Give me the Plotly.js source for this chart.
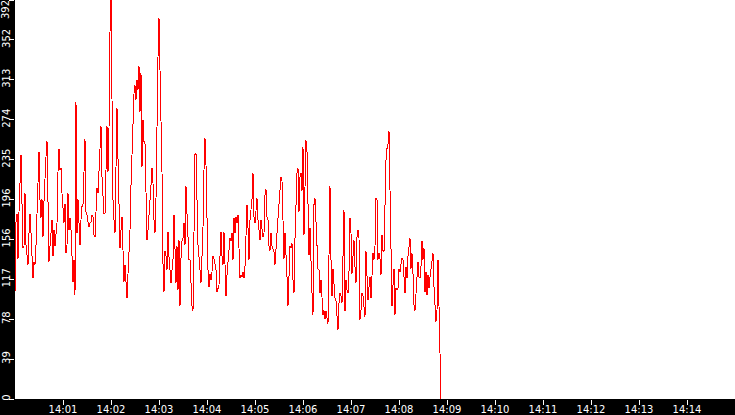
<!DOCTYPE html>
<html>
<head>
<meta charset="utf-8">
<script src="https://cdn.plot.ly/plotly-3.0.1.min.js"></script>
<style>
  html, body { margin: 0; padding: 0; background: #000; }
  #chart { width: 735px; height: 415px; }
  #chart .scatterlayer path { shape-rendering: crispEdges; }
</style>
</head>
<body>
<div id="chart"></div>
<script>
// sampled readings, one every 1.25 s from 14:00:00
const startTime = '2024-01-01 14:00:00';
const sampleStepMs = 1250;

const readings = [
    104, 174, 182, 138, 184, 224, 240, 192, 148, 150, 202, 151, 140, 132, 163, 182, 163, 137, 119, 135,
    132, 151, 178, 223, 243, 196, 178, 196, 159, 194, 229, 238, 253, 209, 135, 150, 163, 176, 140, 166,
    150, 168, 173, 223, 246, 225, 227, 202, 179, 173, 192, 143, 151, 202, 166, 178, 166, 143, 115, 137,
    102, 292, 163, 196, 161, 151, 176, 189, 191, 222, 255, 184, 181, 174, 169, 173, 174, 181, 179, 161,
    159, 184, 207, 202, 220, 245, 268, 218, 200, 182,
    182, 222, 268, 223, 266, 361, 392, 295, 196, 176, 163, 228, 286, 236, 173, 148, 166, 179, 146, 115,
    132, 120, 99, 123, 146, 166, 210, 250, 279, 300, 308, 294, 313, 304, 327, 282, 320, 228, 274, 253,
    251, 176, 156, 166, 179, 189, 210, 227, 212, 176, 163, 197, 281, 336, 374, 323, 305, 223, 133, 105,
    145, 141, 127, 164, 140, 127, 114, 127, 137, 181, 143, 114, 150, 107, 156, 91, 138, 155, 158, 173,
    151, 209, 182, 146, 137,
    137, 112, 91, 87, 166, 240, 241, 182, 151, 140, 123, 114, 140, 169, 225, 256, 230, 166, 127, 110,
    123, 117, 125, 140, 138, 133, 127, 105, 110, 112, 140, 164, 141, 132, 164, 141, 101, 122, 137, 145,
    158, 155, 163, 137, 178, 163, 179, 173, 181, 148, 119, 122, 120, 125, 119, 130, 163, 191, 168, 137,
    176, 189, 196, 222, 179, 173, 187, 197, 176, 161, 156, 176, 169, 159, 163, 200, 206, 179, 176, 150,
    146, 163, 150, 146, 145, 132, 153, 163,
    178, 191, 202, 218, 214, 186, 138, 163, 146, 120, 91, 130, 150, 148, 153, 117, 104, 158, 186, 222,
    227, 184, 218, 222, 204, 248, 161, 205, 254, 243, 187, 141, 168, 125, 104, 83, 191, 197, 174, 145,
    128, 127, 104, 117, 94, 83, 87, 79, 86, 81, 74, 141, 209, 137, 101, 128, 114, 99, 96, 81,
    68, 94, 104, 101, 94, 140, 186, 86, 117, 107, 104, 125, 178, 163, 123, 140, 156, 130, 114, 159,
    166, 158, 78, 87, 104, 101, 91, 81,
    145, 120, 97, 110, 120, 99, 127, 143, 137, 150, 197, 196, 137, 143, 138, 122, 161, 146, 145, 192,
    235, 246, 250, 263, 196, 114, 91, 112, 128, 83, 109, 107, 109, 128, 125, 133, 138, 137, 120, 104,
    130, 119, 140, 150, 158, 128, 143, 123, 92, 87, 109, 120, 135, 120, 119, 130, 155, 137, 148, 105,
    125, 102, 122, 109, 120, 127, 132, 143, 110, 94, 76, 87, 137, 91, 22, 0
];

const yMax = 392;
const yTickVals = [0, 39.2, 78.4, 117.6, 156.8, 196, 235.2, 274.4, 313.6, 352.8, 392];
const yTickText = ['0', '39', '78', '117', '156', '196', '235', '274', '313', '352', '392'];

const xTickMinutes = ['14:01', '14:02', '14:03', '14:04', '14:05', '14:06', '14:07',
                      '14:08', '14:09', '14:10', '14:11', '14:12', '14:13', '14:14'];

const t0 = new Date(startTime.replace(' ', 'T')).getTime();
const pad = n => String(n).padStart(2, '0');
function stamp(ms) {
    const d = new Date(ms);
    return d.getFullYear() + '-' + pad(d.getMonth() + 1) + '-' + pad(d.getDate()) + ' ' +
        pad(d.getHours()) + ':' + pad(d.getMinutes()) + ':' + pad(d.getSeconds()) + '.' +
        String(d.getMilliseconds()).padStart(3, '0');
}
const times = readings.map((_, i) => stamp(t0 + i * sampleStepMs));

const data = [{
    x: times,
    y: readings,
    mode: 'lines',
    type: 'scatter',
    line: { color: '#ff0000', width: 1 },
    hoverinfo: 'skip'
}];

const tickFont = { family: 'DejaVu Sans, sans-serif', size: 10, color: '#ffffff' };

// the top label would sit half off the page, so it is drawn as an annotation pushed down
const yAxisText = yTickText.map((t, i) => (i === yTickText.length - 1 ? '' : t));

const layout = {
    width: 735,
    height: 415,
    margin: { l: 15, r: 0, t: 0, b: 16, pad: 0 },
    paper_bgcolor: '#000000',
    plot_bgcolor: '#ffffff',
    showlegend: false,
    xaxis: {
        type: 'date',
        range: ['2024-01-01 14:00:00', '2024-01-01 14:15:00'],
        tickvals: xTickMinutes.map(m => '2024-01-01 ' + m + ':00'),
        ticktext: xTickMinutes,
        ticks: 'outside',
        ticklen: 5,
        tickwidth: 1,
        tickcolor: '#ffffff',
        tickfont: tickFont,
        ticklabelstandoff: -4,
        showgrid: false,
        zeroline: false,
        showline: false,
        fixedrange: true
    },
    yaxis: {
        range: [0, yMax],
        tickvals: yTickVals,
        ticktext: yAxisText,
        tickangle: -90,
        ticks: 'outside',
        ticklen: 5,
        tickwidth: 1,
        tickcolor: '#ffffff',
        tickfont: tickFont,
        ticklabelstandoff: -5,
        showgrid: false,
        zeroline: false,
        showline: false,
        fixedrange: true
    },
    annotations: [{
        text: yTickText[yTickText.length - 1],
        xref: 'paper',
        yref: 'y',
        x: 0,
        y: yMax,
        xanchor: 'center',
        yanchor: 'middle',
        xshift: -10,
        yshift: -10,
        textangle: -90,
        showarrow: false,
        font: tickFont,
        borderpad: 0
    }]
};

Plotly.newPlot('chart', data, layout, { displayModeBar: false, staticPlot: true });
</script>
</body>
</html>
